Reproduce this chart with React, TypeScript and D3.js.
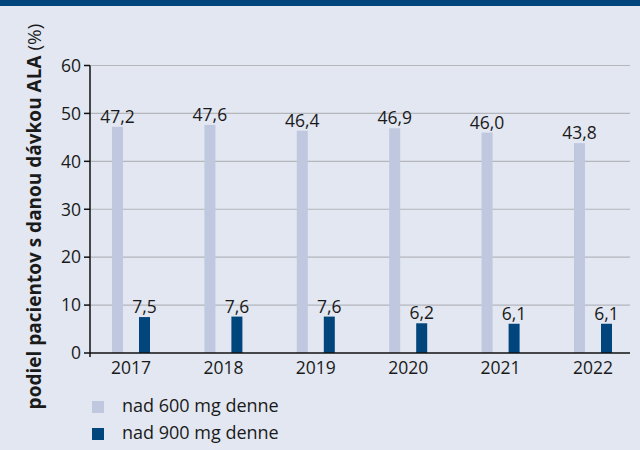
import React, { useRef, useEffect } from "react";
import * as d3 from "d3";

const years = ["2017", "2018", "2019", "2020", "2021", "2022"];
const over600 = [47.2, 47.6, 46.4, 46.9, 46.0, 43.8];
const over900 = [7.5, 7.6, 7.6, 6.2, 6.1, 6.1];
const seriesNames = ["nad 600 mg denne", "nad 900 mg denne"];
const yTicks = [0, 10, 20, 30, 40, 50, 60];

const width = 640;
const height = 450;
const font = "'Open Sans', sans-serif";
const bg = "#e2e7f1";
const navy = "#00457b";
const lightBar = "#c0c8e0";
const ink = "#1a1a1a";

export default function App() {
  const ref = useRef<SVGSVGElement>(null);

  useEffect(() => {
    const svg = d3.select(ref.current);
    svg.selectAll("*").remove();

    const x = d3.scalePoint().domain(years).range([131, 593]);
    const y = d3.scaleLinear().domain([0, 60]).range([353, 65.5]);
    const left = 90;
    const right = 630;
    const barW = 11;

    svg.append("rect").attr("width", width).attr("height", height).attr("fill", bg);
    svg.append("rect").attr("width", width).attr("height", 6).attr("fill", navy);

    // gridlines
    svg
      .append("g")
      .selectAll("line")
      .data(yTicks.filter((d) => d > 0))
      .join("line")
      .attr("x1", left)
      .attr("x2", right)
      .attr("y1", (d) => y(d))
      .attr("y2", (d) => y(d))
      .attr("stroke", "#b4b6bb")
      .attr("stroke-width", 1.2);

    const series = [
      { vals: over600, color: lightBar, off: -19 },
      { vals: over900, color: navy, off: 8 },
    ];

    series.forEach((s) => {
      const g = svg.append("g");
      g.selectAll("rect")
        .data(s.vals)
        .join("rect")
        .attr("x", (d, i) => (x(years[i]) as number) + s.off)
        .attr("y", (d) => y(d))
        .attr("width", barW)
        .attr("height", (d) => y(0) - y(d))
        .attr("fill", s.color);
      g.selectAll("text")
        .data(s.vals)
        .join("text")
        .attr("x", (d, i) => (x(years[i]) as number) + s.off + barW / 2)
        .attr("y", (d) => y(d) - 4)
        .attr("text-anchor", "middle")
        .attr("font-family", font)
        .attr("font-size", 17.5)
        .attr("fill", ink)
        .text((d) => d.toFixed(1).replace(".", ","));
    });

    // y axis
    const ya = svg.append("g");
    ya.append("line")
      .attr("x1", left)
      .attr("x2", left)
      .attr("y1", y(60))
      .attr("y2", y(0) + 4)
      .attr("stroke", "#111")
      .attr("stroke-width", 1.5);
    ya.selectAll("line.tick")
      .data(yTicks)
      .join("line")
      .attr("class", "tick")
      .attr("x1", left - 6)
      .attr("x2", left)
      .attr("y1", (d) => y(d))
      .attr("y2", (d) => y(d))
      .attr("stroke", "#111")
      .attr("stroke-width", 1.5);
    ya.selectAll("text")
      .data(yTicks)
      .join("text")
      .attr("x", left - 9)
      .attr("y", (d) => y(d))
      .attr("dy", "0.36em")
      .attr("text-anchor", "end")
      .attr("font-family", font)
      .attr("font-size", 17.5)
      .attr("fill", ink)
      .text((d) => d);

    // x axis
    svg
      .append("line")
      .attr("x1", left)
      .attr("x2", right)
      .attr("y1", y(0))
      .attr("y2", y(0))
      .attr("stroke", "#111")
      .attr("stroke-width", 1.5);
    svg
      .append("g")
      .selectAll("text")
      .data(years)
      .join("text")
      .attr("x", (d) => x(d) as number)
      .attr("y", 374)
      .attr("text-anchor", "middle")
      .attr("font-family", font)
      .attr("font-size", 17.5)
      .attr("fill", ink)
      .text((d) => d);

    // y title
    const t = svg
      .append("text")
      .attr("transform", "translate(41,216.5) rotate(-90)")
      .attr("text-anchor", "middle")
      .attr("font-family", font)
      .attr("font-size", 19)
      .attr("fill", ink);
    t.append("tspan").attr("font-weight", "bold").text("podiel pacientov s danou dávkou ALA");
    t.append("tspan").text(" (%)");

    // legend
    const lg = svg
      .append("g")
      .selectAll("g")
      .data(seriesNames)
      .join("g")
      .attr("transform", (d, i) => `translate(92,${401 + i * 27})`);
    lg.append("rect")
      .attr("width", 12)
      .attr("height", 12)
      .attr("fill", (d, i) => (i === 0 ? lightBar : navy));
    lg.append("text")
      .attr("x", 30)
      .attr("y", 11)
      .attr("font-family", font)
      .attr("font-size", 18)
      .attr("fill", ink)
      .text((d) => d);
  }, []);

  return (
    <svg
      ref={ref}
      width={width}
      height={height}
      style={{ position: "absolute", left: 0, top: 0 }}
    ></svg>
  );
}
